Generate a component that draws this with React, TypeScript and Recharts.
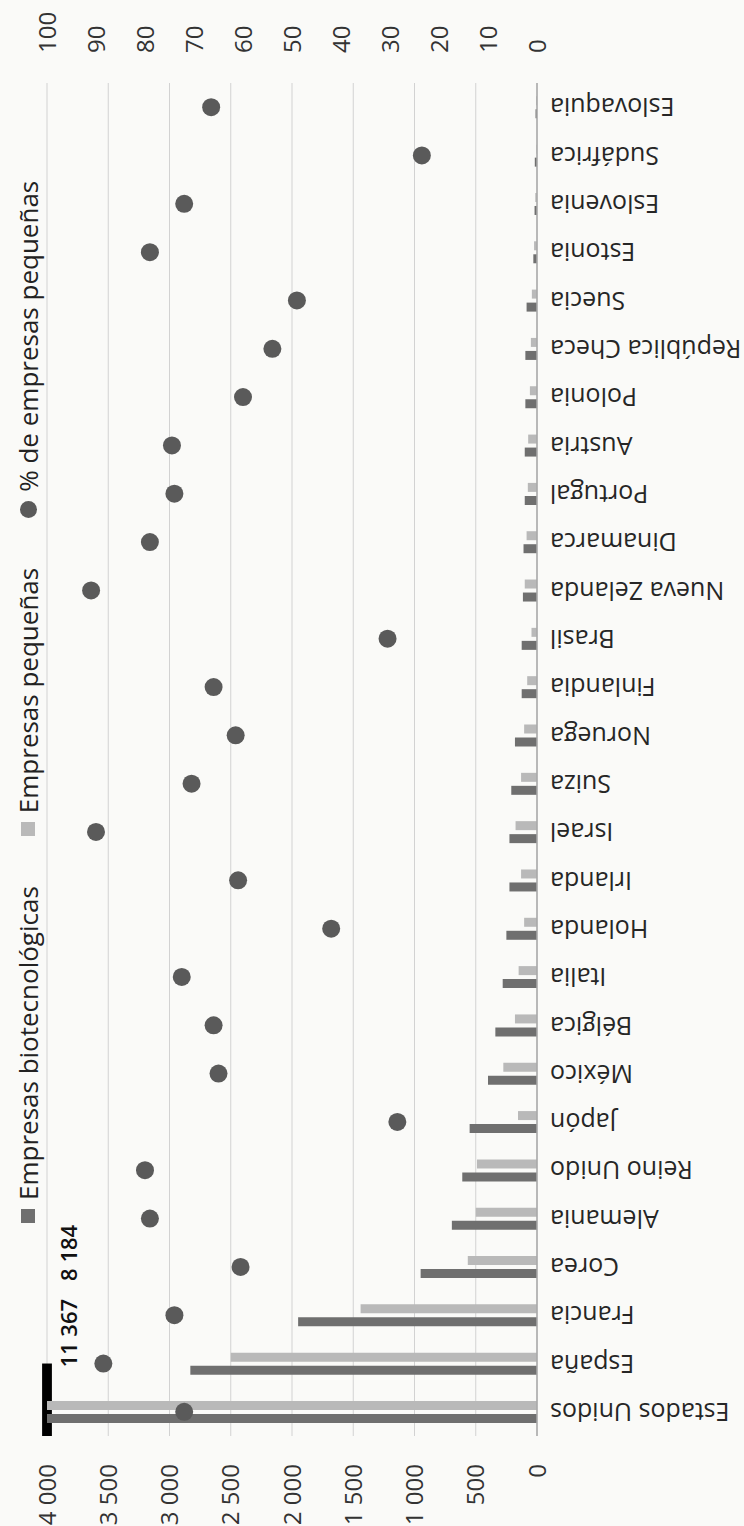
import React from "react";
import { ComposedChart, Bar, Line, XAxis, YAxis, CartesianGrid, Legend, ReferenceArea } from "recharts";

// countries, left to right in the original (unrotated) chart
const paises = [
  "Estados Unidos", "España", "Francia", "Corea", "Alemania", "Reino Unido", "Japón",
  "México", "Bélgica", "Italia", "Holanda", "Irlanda", "Israel", "Suiza", "Noruega",
  "Finlandia", "Brasil", "Nueva Zelanda", "Dinamarca", "Portugal", "Austria", "Polonia",
  "República Checa", "Suecia", "Estonia", "Eslovenia", "Sudáfrica", "Eslovaquia",
];

const biotecnologicas = [
  11367, 2830, 1950, 950, 695, 610, 550, 400, 340, 280, 250, 225, 225, 210, 180,
  125, 125, 115, 110, 100, 100, 95, 95, 85, 30, 20, 18, 12,
];

const pequenas = [
  8184, 2500, 1440, 565, 500, 490, 155, 275, 180, 150, 105, 130, 175, 130, 105,
  80, 45, 100, 85, 75, 72, 58, 50, 42, 24, 14, 5, 8,
];

const pctPequenas = [
  72, 88.5, 74, 60.5, 79, 80, 28.5, 65, 66, 72.5, 42, 61, 90, 70.5, 61.5,
  66, 30.5, 91, 79, 74, 74.5, 60, 54, 49, 79, 72, 23.5, 66.5,
];

const ticksEmpresas = [0, 500, 1000, 1500, 2000, 2500, 3000, 3500, 4000];
const ticksPct = [0, 10, 20, 30, 40, 50, 60, 70, 80, 90, 100];

const series = ["Empresas biotecnológicas", "Empresas pequeñas", "% de empresas pequeñas"];
const colors = ["#6f6f6f", "#b9b9b9", "#5a5a5a"];

const data = paises.map((pais, i) => ({
  pais,
  bio: biotecnologicas[i],
  peq: pequenas[i],
  pct: pctPequenas[i],
}));

const fmt = (v: number) => String(v).replace(/\B(?=(\d{3})+(?!\d))/g, " ");

// the chart is laid out normally, then the whole thing is turned 90deg like the scanned page
const W = 1526;
const H = 744;

const CategoryTick = ({ x, y, payload }: any) => (
  <text
    x={x}
    y={y}
    transform={`rotate(-90, ${x}, ${y})`}
    textAnchor="end"
    dy="0.35em"
    fontSize={25}
    fill="#262626"
  >
    {payload.value}
  </text>
);

// black cut mark on top of the US bars + the real values
const BreakMark = (props: any) => {
  const { x, y, width, height } = props;
  const len = width * 1.5;
  return (
    <g>
      <rect x={x} y={y} width={len} height={height} fill="#000" />
      <text x={x + len - 4} y={y + height / 2 + 30} fontSize={22} fontWeight={600} fill="#111">
        {fmt(biotecnologicas[0])}
        <tspan dx={18}>{fmt(pequenas[0])}</tspan>
      </text>
    </g>
  );
};

const LegendBox = () => (
  <div style={{ display: "flex", alignItems: "center", fontSize: 26, lineHeight: "34px", color: "#222" }}>
    {series.map((s, i) => (
      <span key={s} style={{ display: "flex", alignItems: "center", marginRight: 50 }}>
        <span
          style={{
            display: "inline-block",
            width: i === 2 ? 17 : 14,
            height: i === 2 ? 17 : 14,
            borderRadius: i === 2 ? "50%" : 0,
            background: colors[i],
            marginRight: 9,
          }}
        />
        {s}
      </span>
    ))}
  </div>
);

const App = () => {
  return (
    <div
      style={{
        position: "absolute",
        left: 0,
        top: 0,
        width: H,
        height: W,
        overflow: "hidden",
        background: "#fafaf8",
        fontFamily: '"Open Sans", sans-serif',
      }}
    >
      <div
        style={{
          position: "absolute",
          left: 0,
          top: 0,
          width: W,
          height: H,
          transformOrigin: "0 0",
          transform: `translateY(${W}px) rotate(-90deg)`,
        }}
      >
        <ComposedChart
          width={W}
          height={H}
          data={data}
          margin={{ top: 47, right: 0, bottom: 0, left: 0 }}
          barSize={9}
          barGap={4}
        >
          <CartesianGrid yAxisId="left" vertical={false} stroke="#d2d2d2" />
          <XAxis
            dataKey="pais"
            interval={0}
            height={207}
            tickLine={false}
            tickSize={0}
            tickMargin={13}
            axisLine={{ stroke: "#a9a9a9", strokeWidth: 1.5 }}
            tick={<CategoryTick />}
          />
          <YAxis
            yAxisId="left"
            width={90}
            domain={[0, 4000]}
            ticks={ticksEmpresas}
            allowDataOverflow
            tickFormatter={fmt}
            tickLine={false}
            axisLine={false}
            tickSize={0}
            tickMargin={28}
            tick={{ fontSize: 24, fill: "#333" }}
          />
          <YAxis
            yAxisId="right"
            orientation="right"
            width={83}
            domain={[0, 100]}
            ticks={ticksPct}
            tickLine={false}
            axisLine={false}
            tickSize={0}
            tickMargin={30}
            tick={{ fontSize: 24, fill: "#333" }}
          />
          <Legend
            verticalAlign="middle"
            align="center"
            content={<LegendBox />}
            wrapperStyle={{ top: 11, left: 303, width: "auto" }}
          />
          <Bar yAxisId="left" dataKey="bio" name={series[0]} fill={colors[0]} isAnimationActive={false} />
          <Bar yAxisId="left" dataKey="peq" name={series[1]} fill={colors[1]} isAnimationActive={false} />
          <Line
            yAxisId="right"
            dataKey="pct"
            name={series[2]}
            stroke="none"
            strokeWidth={0}
            dot={{ r: 9, fill: colors[2], stroke: "none" }}
            activeDot={false}
            isAnimationActive={false}
          />
          <ReferenceArea
            yAxisId="left"
            x1={paises[0]}
            x2={paises[0]}
            y1={3960}
            y2={4040}
            ifOverflow="visible"
            shape={<BreakMark />}
          />
        </ComposedChart>
      </div>
    </div>
  );
};

export default App;
